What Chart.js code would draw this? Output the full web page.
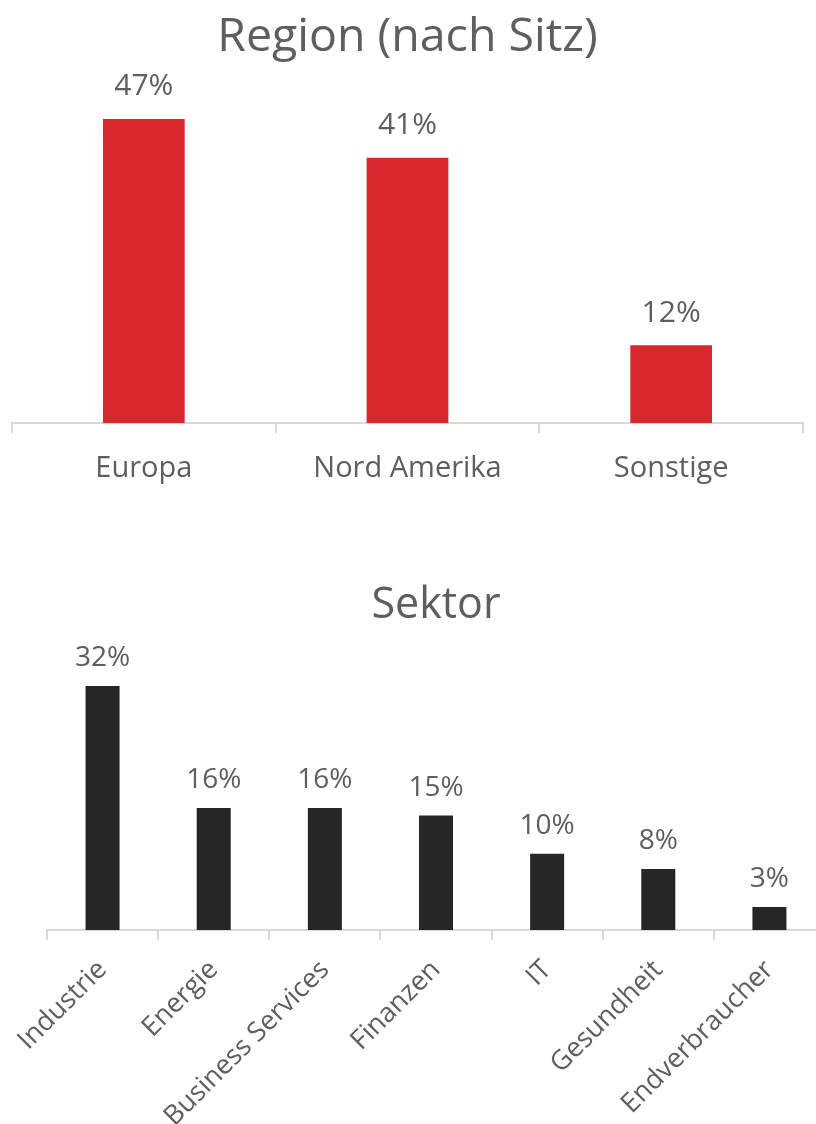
<!DOCTYPE html>
<html>
<head>
<meta charset="utf-8">
<script src="https://cdn.jsdelivr.net/npm/chart.js@4/dist/chart.umd.min.js"></script>
<style>
  html, body { margin: 0; padding: 0; background: #fff; overflow: hidden; width: 816px; height: 1124px; }
  canvas { position: absolute; left: 0; }
  #chartRegion { top: 0; }
  #chartSektor { top: 560px; }
</style>
</head>
<body>
<canvas id="chartRegion" width="816" height="500"></canvas>
<canvas id="chartSektor" width="840" height="564"></canvas>
<script>
// Daten
const regionLabels = ['Europa', 'Nord Amerika', 'Sonstige'];
const regionValues = [47, 41, 12];
const sektorLabels = ['Industrie', 'Energie', 'Business Services', 'Finanzen', 'IT', 'Gesundheit', 'Endverbraucher'];
const sektorValues = [32, 16, 16, 15, 10, 8, 3];

const grey = '#5e5e5e';
const fontFamily = "'Open Sans', 'Noto Sans', sans-serif";

// Werte über den Balken
const valueLabels = {
    id: 'valueLabels',
    afterDatasetsDraw(chart, args, opts) {
        const ctx = chart.ctx;
        ctx.save();
        ctx.font = opts.size + 'px ' + fontFamily;
        ctx.fillStyle = grey;
        ctx.textAlign = 'center';
        ctx.textBaseline = 'middle';
        chart.getDatasetMeta(0).data.forEach((bar, i) => {
            ctx.fillText(chart.data.datasets[0].data[i] + '%', bar.x, bar.y - opts.gap);
        });
        ctx.restore();
    }
};

const ctxRegion = document.getElementById('chartRegion');
const chartRegion = new Chart(ctxRegion, {
    type: 'bar',
    data: {
        labels: regionLabels,
        datasets: [{
            data: regionValues,
            backgroundColor: '#d9272e',
            categoryPercentage: 1,
            barPercentage: 0.31
        }]
    },
    plugins: [valueLabels],
    options: {
        responsive: false,
        animation: false,
        layout: { padding: { left: 12, right: 13, top: 0, bottom: 0 } },
        plugins: {
            legend: { display: false },
            tooltip: { enabled: false },
            title: {
                display: true,
                text: 'Region (nach Sitz)',
                color: grey,
                font: { family: fontFamily, size: 46.5, weight: 'normal' },
                padding: { top: 9.6, bottom: 34.1 }
            },
            valueLabels: { size: 30, gap: 32 }
        },
        scales: {
            x: {
                afterFit: (s) => { s.height = 77; },
                grid: { display: true, drawOnChartArea: false, drawTicks: true, tickLength: 10, color: '#d9d9d9', lineWidth: 2 },
                border: { display: true, color: '#d9d9d9', width: 2 },
                ticks: { color: grey, padding: 18, font: { family: fontFamily, size: 29 } }
            },
            y: { display: false, min: 0, max: 50 }
        }
    }
});

const ctxSektor = document.getElementById('chartSektor');
const chartSektor = new Chart(ctxSektor, {
    type: 'bar',
    data: {
        labels: sektorLabels,
        datasets: [{
            data: sektorValues,
            backgroundColor: '#262626',
            categoryPercentage: 1,
            barPercentage: 0.306
        }]
    },
    plugins: [valueLabels],
    options: {
        responsive: false,
        animation: false,
        layout: { padding: { left: 47, right: 15, top: 0, bottom: 0 } },
        plugins: {
            legend: { display: false },
            tooltip: { enabled: false },
            title: {
                display: true,
                text: 'Sektor',
                color: grey,
                font: { family: fontFamily, size: 43, weight: 'normal' },
                padding: { top: 20, bottom: 31.4 }
            },
            valueLabels: { size: 28, gap: 28 }
        },
        scales: {
            x: {
                afterFit: (s) => { s.height = 194; },
                grid: { display: true, drawOnChartArea: false, drawTicks: true, tickLength: 10, color: '#d9d9d9', lineWidth: 2 },
                border: { display: true, color: '#d9d9d9', width: 2 },
                ticks: { color: grey, padding: 14, minRotation: 45, maxRotation: 45, font: { family: fontFamily, size: 27 } }
            },
            y: { display: false, min: 0, max: 35 }
        }
    }
});
</script>
</body>
</html>
